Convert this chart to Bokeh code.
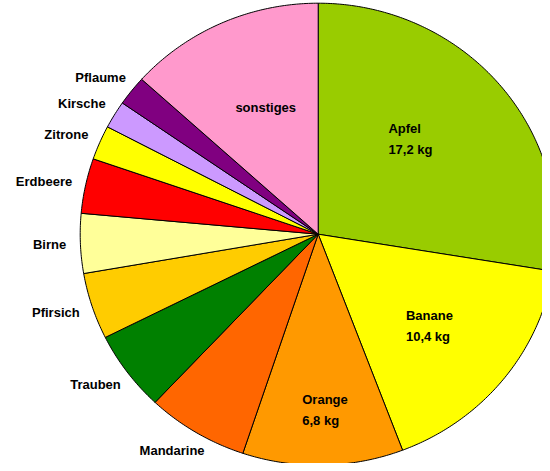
import numpy as np
from bokeh.plotting import figure
from bokeh.models import ColumnDataSource, Range1d
from bokeh.embed import file_html
from bokeh.resources import INLINE
from bokeh.core.properties import value

# ---- data ----
fruits = ["Apfel", "Banane", "Orange", "Mandarine", "Trauben", "Pfirsich",
          "Birne", "Erdbeere", "Zitrone", "Kirsche", "Pflaume", "sonstiges"]
kg = [17.2, 10.4, 6.8, 4.3, 3.5, 2.9, 2.6, 2.4, 1.5, 1.2, 1.3, 8.3]
colors = ["#99CC00", "#FFFF00", "#FF9900", "#FF6600", "#008000", "#FFCC00",
          "#FFFF99", "#FF0000", "#FFFF00", "#CC99FF", "#800080", "#FF99CC"]
show_value = [True, True, True, False, False, False,
              False, False, False, False, False, False]
label_inside = [True, True, True, False, False, False,
                False, False, False, False, False, True]

# ---- layout/style ----
W, H = 542, 463
RX, RY = 238.0, 231.0          # pixel radii
CX, CY = 317.7, 233.7          # pie centre in canvas pixels (from top-left)
inner_r = [0.567, 0.612, 0.76, 0, 0, 0, 0, 0, 0, 0, 0, 0.59]
inner_shift = [6.5, -1.0, 1.0, 0, 0, 0, 0, 0, 0, 0, 0, -2.0]
outer_r = 1.06

vals = np.array(kg, dtype=float)
total = vals.sum()
spans = vals / total * 2 * np.pi
ends = np.pi / 2 - np.cumsum(spans)
starts = ends + spans
mids = (starts + ends) / 2

xs, ys = [], []
for s, e in zip(starts, ends):
    n = max(int(abs(s - e) / 0.01), 4)
    t = np.linspace(s, e, n)
    xs.append([0.0] + list(np.cos(t)) + [0.0])
    ys.append([0.0] + list(np.sin(t)) + [0.0])

p = figure(width=W, height=H, output_backend="svg", toolbar_location=None,
           x_range=Range1d(-CX / RX, (W - CX) / RX),
           y_range=Range1d(-(H - CY) / RY, CY / RY),
           x_axis_location=None, y_axis_location=None,
           min_border=0, outline_line_color=None)
p.grid.visible = False
p.background_fill_color = "white"

p.patches(xs=xs, ys=ys, fill_color=colors, line_color="black", line_width=1)

lx, ly, lt, anc = [], [], [], []
for i, name in enumerate(fruits):
    txt = name
    if show_value[i]:
        txt = name + "\n" + ("%.1f" % kg[i]).replace(".", ",") + " kg"
    if label_inside[i]:
        a = mids[i] + np.deg2rad(inner_shift[i])
        r = inner_r[i]
        lx.append(r * np.cos(a)); ly.append(r * np.sin(a))
        anc.append((0.5, 0.5))
    else:
        a = mids[i]
        lx.append(outer_r * np.cos(a)); ly.append(outer_r * np.sin(a))
        anc.append(((1 - np.cos(a)) / 2, (1 + np.sin(a)) / 2))
    lt.append(txt)

src = ColumnDataSource(dict(x=lx, y=ly, text=lt, anchor=anc))
p.text(x="x", y="y", text="text", anchor="anchor", source=src,
       text_font=value("Liberation Sans"), text_font_style="bold",
       text_font_size="13px", text_color="black", text_line_height=1.4)

open("out.html", "w").write(file_html(p, INLINE))
